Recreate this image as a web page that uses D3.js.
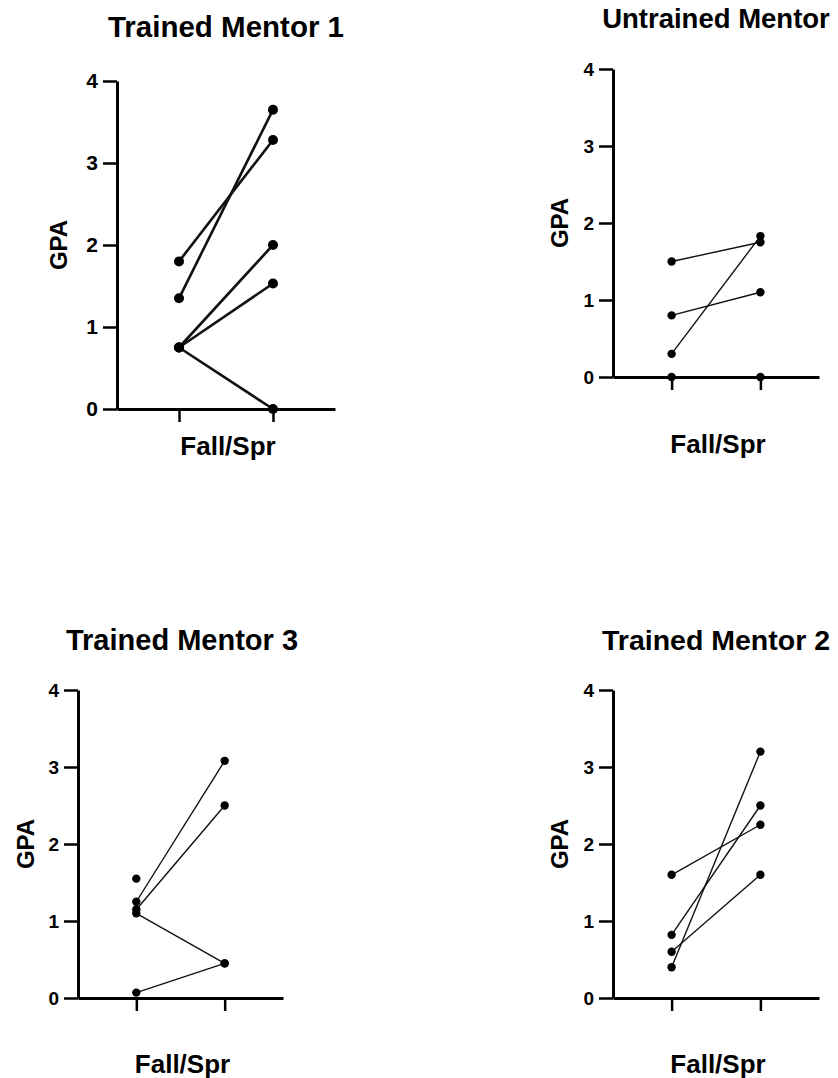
<!DOCTYPE html>
<html>
<head>
<meta charset="utf-8">
<script src="https://cdn.jsdelivr.net/npm/d3@7"></script>
<style>
  body { margin: 0; background: #fff; }
  svg { display: block; }
  text { font-family: "Liberation Sans", Arial, Helvetica, sans-serif; font-weight: bold; fill: #000; }
</style>
</head>
<body>
<div id="chart"></div>
<script>
var width = 838;
var height = 1078;

// data
var categories = ["Fall", "Spr"];
var yTicks = [0, 1, 2, 3, 4];

var mentor1Fall = [1.8, 1.35, 0.75, 0.75, 0.75];
var mentor1Spr = [3.28, 3.65, 2.0, 1.53, 0];

var untrainedFall = [1.5, 0.8, 0.3, 0];
var untrainedSpr = [1.75, 1.1, 1.83, 0];

var mentor3Fall = [1.25, 1.15, 1.1, 0.07, 1.55];
var mentor3Spr = [3.08, 2.5, 0.45, 0.45, null];

var mentor2Fall = [1.6, 0.82, 0.6, 0.4];
var mentor2Spr = [2.25, 2.5, 1.6, 3.2];

// layout of each small chart
var panels = [
  { title: "Trained Mentor 1", fall: mentor1Fall, spr: mentor1Spr,
    axisX: 117, axisRight: 335, top: 81, bottom: 409,
    titleX: 226, titleY: 37, titleSize: 29.5, gpaX: 58, labelY: 455,
    lineW: 2.6, r: 5, tickFont: 21 },
  { title: "Untrained Mentor", fall: untrainedFall, spr: untrainedSpr,
    axisX: 613, axisRight: 819, top: 69, bottom: 377,
    titleX: 716, titleY: 28, titleSize: 27.5, gpaX: 559, labelY: 453,
    lineW: 1.4, r: 4.2, tickFont: 19 },
  { title: "Trained Mentor 3", fall: mentor3Fall, spr: mentor3Spr,
    axisX: 78, axisRight: 283, top: 690, bottom: 998,
    titleX: 182, titleY: 650, titleSize: 29, gpaX: 25, labelY: 1073,
    lineW: 1.4, r: 4.2, tickFont: 19 },
  { title: "Trained Mentor 2", fall: mentor2Fall, spr: mentor2Spr,
    axisX: 613, axisRight: 819, top: 690, bottom: 998,
    titleX: 716, titleY: 650, titleSize: 28.5, gpaX: 559, labelY: 1073,
    lineW: 1.4, r: 4.2, tickFont: 19 }
];

var svg = d3.select("#chart")
  .append("svg")
  .attr("width", width)
  .attr("height", height);

panels.forEach(drawPanel);

function drawPanel(p) {
  var g = svg.append("g");

  var x = d3.scalePoint().domain(categories).range([p.axisX, p.axisRight]).padding(0.66);
  var y = d3.scaleLinear().domain([0, 4]).range([p.bottom, p.top]);

  // title
  g.append("text")
    .attr("x", p.titleX)
    .attr("y", p.titleY)
    .attr("text-anchor", "middle")
    .style("font-size", p.titleSize + "px")
    .text(p.title);

  // pairs
  var pairs = p.fall.map(function(v, i) { return { fall: v, spr: p.spr[i] }; });

  g.selectAll("line.pair")
    .data(pairs.filter(function(d) { return d.spr != null; }))
    .enter()
    .append("line")
    .attr("class", "pair")
    .attr("x1", x("Fall"))
    .attr("x2", x("Spr"))
    .attr("y1", function(d) { return y(d.fall); })
    .attr("y2", function(d) { return y(d.spr); })
    .attr("stroke", "#111")
    .attr("stroke-width", p.lineW);

  g.selectAll("circle.fall")
    .data(p.fall)
    .enter()
    .append("circle")
    .attr("class", "fall")
    .attr("cx", x("Fall"))
    .attr("cy", function(d) { return y(d); })
    .attr("r", p.r)
    .attr("fill", "#000");

  g.selectAll("circle.spr")
    .data(p.spr.filter(function(d) { return d != null; }))
    .enter()
    .append("circle")
    .attr("class", "spr")
    .attr("cx", x("Spr"))
    .attr("cy", function(d) { return y(d); })
    .attr("r", p.r)
    .attr("fill", "#000");

  // x axis
  var xAxis = g.append("g")
    .attr("transform", "translate(0," + p.bottom + ")")
    .call(d3.axisBottom(x).tickSize(13).tickSizeOuter(0).tickFormat(""));
  xAxis.select(".domain").attr("stroke-width", 3);
  xAxis.selectAll(".tick line").attr("stroke-width", 2.5);

  // y axis
  var yAxis = g.append("g")
    .attr("transform", "translate(" + p.axisX + ",0)")
    .call(d3.axisLeft(y).tickValues(yTicks).tickSize(14).tickSizeOuter(0).tickPadding(5).tickFormat(d3.format("d")));
  yAxis.select(".domain").attr("stroke-width", 3);
  yAxis.selectAll(".tick line").attr("stroke-width", 2.5);
  yAxis.selectAll(".tick text")
    .style("font-size", p.tickFont + "px")
    .style("font-family", "'Liberation Sans', Arial, sans-serif")
    .style("font-weight", "bold");

  // axis titles
  g.append("text")
    .attr("transform", "translate(" + p.gpaX + "," + ((p.top + p.bottom) / 2) + ") rotate(-90)")
    .attr("text-anchor", "middle")
    .attr("dy", "0.36em")
    .style("font-size", "24px")
    .text("GPA");

  g.append("text")
    .attr("x", (p.axisX + p.axisRight) / 2 + 2)
    .attr("y", p.labelY)
    .attr("text-anchor", "middle")
    .style("font-size", "26px")
    .text("Fall/Spr");
}
</script>
</body>
</html>
